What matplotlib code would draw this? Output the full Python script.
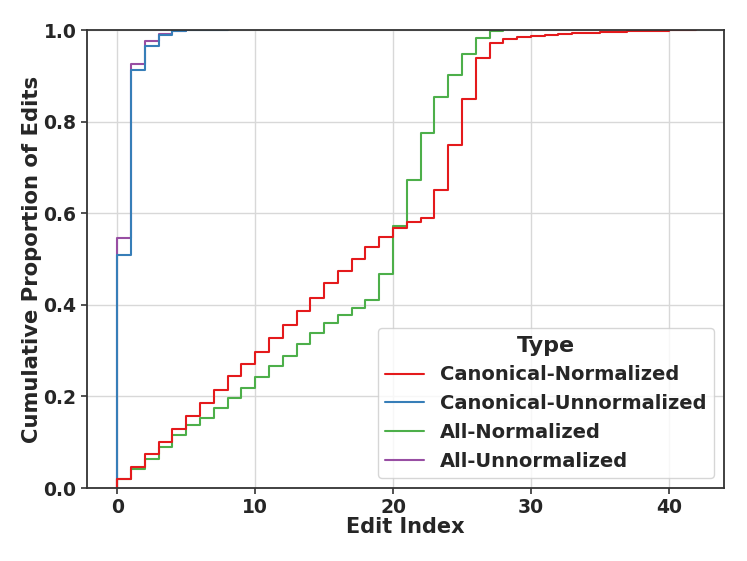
import matplotlib.pyplot as plt
import seaborn as sns

sns.set_style("whitegrid")
plt.rcParams['font.family'] = ['DejaVu Sans']
plt.rcParams['font.weight'] = 'bold'

# Cumulative proportion of edits at each edit index
canon_norm = [0.019, 0.047, 0.074, 0.101, 0.128, 0.157, 0.186, 0.215, 0.245, 0.271,
              0.298, 0.327, 0.356, 0.386, 0.416, 0.447, 0.474, 0.500, 0.527, 0.549,
              0.567, 0.580, 0.589, 0.651, 0.750, 0.849, 0.938, 0.971, 0.980, 0.984,
              0.987, 0.990, 0.992, 0.993, 0.994, 0.995, 0.996, 0.997, 0.997, 0.998,
              0.999, 0.999, 1.0]
canon_unnorm = [0.509, 0.913, 0.965, 0.989, 0.998, 0.999, 0.999, 0.9995, 1.0]
all_norm = [0.020, 0.042, 0.063, 0.090, 0.116, 0.138, 0.154, 0.174, 0.196, 0.218,
            0.243, 0.267, 0.289, 0.314, 0.338, 0.360, 0.378, 0.394, 0.410, 0.467,
            0.573, 0.672, 0.776, 0.854, 0.902, 0.947, 0.983, 0.998, 1.0]
all_unnorm = [0.547, 0.925, 0.975, 0.991, 0.998, 1.0]

names = ['Canonical-Normalized', 'Canonical-Unnormalized', 'All-Normalized', 'All-Unnormalized']
values = [canon_norm, canon_unnorm, all_norm, all_unnorm]
colors = ['#e41a1c', '#377eb8', '#4daf4a', '#984ea3']

fig, ax = plt.subplots(figsize=(7.47, 5.61), dpi=100)
fig.subplots_adjust(left=0.1165, right=0.969, top=0.9465, bottom=0.13)

# draw last series first so the first one ends up on top
lines = {}
for name, vals, c in reversed(list(zip(names, values, colors))):
    xs = [0] + list(range(len(vals)))
    ys = [0] + vals
    lines[name], = ax.step(xs, ys, where='post', color=c, lw=1.5, label=name)

ax.set_xlim(-2.2, 44)
ax.set_ylim(0, 1.0)
ax.set_xticks([0, 10, 20, 30, 40])
ax.set_yticks([0, 0.2, 0.4, 0.6, 0.8, 1.0])
ax.tick_params(labelsize=13.5, length=4, width=1.2, color='#333333', direction='out',
               bottom=True, left=True)
for lab in ax.get_xticklabels() + ax.get_yticklabels():
    lab.set_fontweight('bold')
for s in ax.spines.values():
    s.set_color('#333333')
    s.set_linewidth(1.3)
ax.grid(color='#d8d8d8', lw=1.0)

ax.set_xlabel('Edit Index', fontsize=15, fontweight='bold', labelpad=0)
ax.set_ylabel('Cumulative Proportion of Edits', fontsize=15.2, fontweight='bold', labelpad=1)

leg = ax.legend([lines[n] for n in names], names, title='Type', loc='lower right',
                title_fontsize=16, prop={'weight': 'bold', 'size': 14})
leg.get_title().set_fontweight('bold')

plt.savefig('out.png')
